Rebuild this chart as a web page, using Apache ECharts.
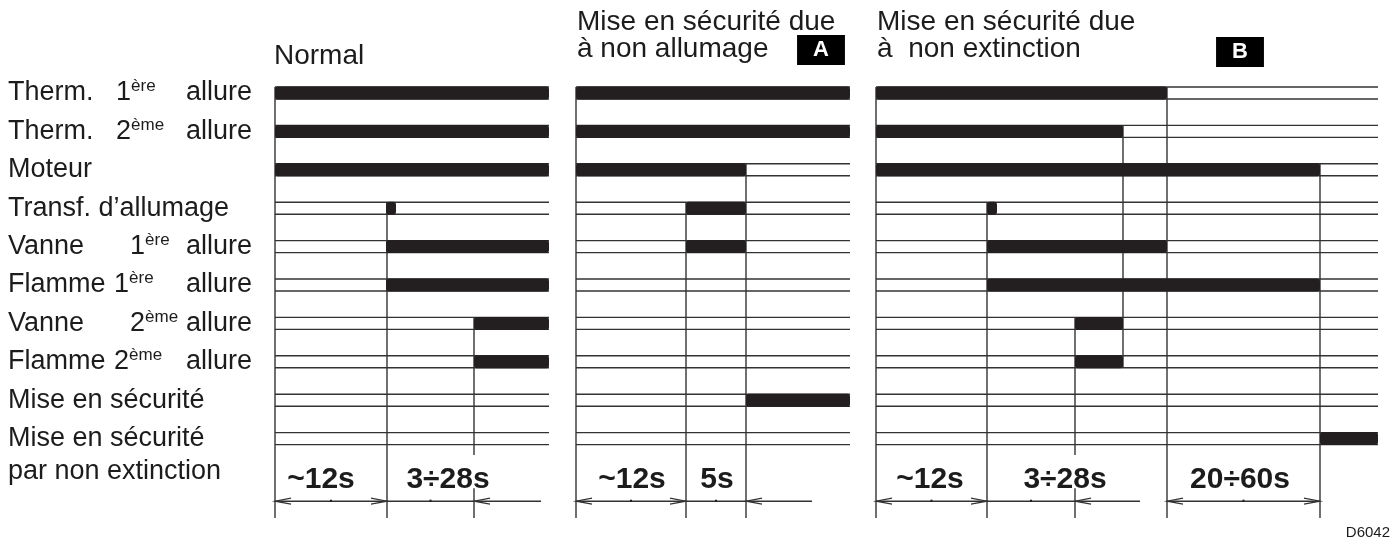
<!DOCTYPE html>
<html>
<head>
<meta charset="utf-8">
<script src="https://cdn.jsdelivr.net/npm/echarts@6/dist/echarts.min.js"></script>
<style>
html, body { margin: 0; padding: 0; background: #fff; }
#chart { width: 1394px; height: 541px; }
</style>
</head>
<body>
<div id="chart"></div>
<script>
// rows of the timing diagram, top to bottom
const signalNames = ['Therm.', 'Therm.', 'Moteur', 'Transf. d’allumage', 'Vanne', 'Flamme', 'Vanne', 'Flamme', 'Mise en sécurité', 'Mise en sécurité\npar non extinction']
const signalStage = ['1', '2', '', '', '1', '1', '2', '2', '', '']

// panels (time in schematic units, not to scale)
const panelTitles = ['Normal', 'Mise en sécurité due\nà non allumage', 'Mise en sécurité due\nà  non extinction']
const panelTags = ['', 'A', 'B']
const panelLength = [27.4, 27.4, 50.2]

// active periods: [row, start, end]
const barsNormal = [[0, 0, 27.4], [1, 0, 27.4], [2, 0, 27.4], [3, 11.1, 12.1], [4, 11.1, 27.4], [5, 11.1, 27.4], [6, 19.9, 27.4], [7, 19.9, 27.4]]
const barsA = [[0, 0, 27.4], [1, 0, 27.4], [2, 0, 17.0], [3, 11.0, 17.0], [4, 11.0, 17.0], [8, 17.0, 27.4]]
const barsB = [[0, 0, 29.1], [1, 0, 24.7], [2, 0, 44.4], [3, 11.1, 12.1], [4, 11.1, 29.1], [5, 11.1, 44.4], [6, 19.9, 24.7], [7, 19.9, 24.7], [9, 44.4, 50.2]]

// event lines: [time, from row, to row | 'foot' | 'cut']
const edgesNormal = [[0, 0, 'foot'], [11.2, 3, 'foot'], [19.9, 6, 'cut']]
const edgesA = [[0, 0, 'foot'], [11.0, 3, 'foot'], [17.0, 2, 'foot']]
const edgesB = [[0, 0, 'foot'], [11.1, 3, 'foot'], [19.9, 6, 'cut'], [24.7, 1, 7], [29.1, 0, 'foot'], [44.4, 2, 'foot']]

// durations: [from, to, label]
const spansNormal = [[0, 11.2, '~12s'], [11.2, 19.9, '3÷28s']]
const spansA = [[0, 11.0, '~12s'], [11.0, 17.0, '5s']]
const spansB = [[0, 11.1, '~12s'], [11.1, 19.9, '3÷28s'], [29.1, 44.4, '20÷60s']]
// where each duration label is centred (time units)
const labelAtNormal = [4.6, 17.3]
const labelAtA = [5.6, 14.1]
const labelAtB = [5.4, 18.9, 36.4]

// dimension lines and arrow tips ('L' = points left, 'R' = points right)
const dimNormal = [[0, 26.6]]
const dimA = [[0, 23.6]]
const dimB = [[0, 26.4], [29.1, 44.4]]
const arrowsNormal = [[0, 'L'], [11.2, 'R'], [19.9, 'L']]
const arrowsA = [[0, 'L'], [11.0, 'R'], [17.0, 'L']]
const arrowsB = [[0, 'L'], [11.1, 'R'], [19.9, 'L'], [29.1, 'L'], [44.4, 'R']]

const INK = '#1c1c1c'
const LINE = '#333'
const BAR = '#231f20'
const FONT = 'Liberation Sans'
const panelLeft = [275, 576, 876]
const ROW_PX = 38.4
const ROW0_PX = 93
// vertical layout in row units
const DIM_TEXT = 10.08
const DIM_LINE = 10.63
const FOOT = 11.07
const CUT_TOP = 9.43
const CUT_BOTTOM = 10.29

const chart = echarts.init(document.getElementById('chart'))

const lineStyle = { stroke: LINE, lineWidth: 1.4 }

function seg(x1, y1, x2, y2) {
  return { type: 'line', shape: { x1, y1, x2, y2 }, style: lineStyle }
}

function makePanel(i, bars, edges, spans, labelAt, dims, arrows) {
  const len = panelLength[i]
  const base = { type: 'custom', coordinateSystem: 'cartesian2d', xAxisIndex: i, yAxisIndex: i, silent: true, animation: false }
  const yOf = (api, v) => api.coord([0, v])[1]
  return [
    {
      ...base,
      data: signalNames.map((_, r) => [0, r]),
      renderItem: (params, api) => {
        const r = api.value(1)
        const a = api.coord([0, r]), b = api.coord([len, r])
        return { type: 'group', children: [-6, 6].map(d => seg(a[0], a[1] + d, b[0], b[1] + d)) }
      }
    },
    {
      ...base,
      data: edges.map(e => [e[0], e[1]]),
      renderItem: (params, api) => {
        const [t, from, to] = edges[params.dataIndex]
        const x = api.coord([t, 0])[0]
        const y0 = yOf(api, from) - 6
        let parts
        if (to === 'cut') parts = [[y0, yOf(api, CUT_TOP)], [yOf(api, CUT_BOTTOM), yOf(api, FOOT)]]
        else if (to === 'foot') parts = [[y0, yOf(api, FOOT)]]
        else parts = [[y0, yOf(api, to) + 6]]
        return { type: 'group', children: parts.map(p => seg(x, p[0], x, p[1])) }
      }
    },
    {
      ...base,
      data: bars.map(b => [b[1], b[0]]),
      renderItem: (params, api) => {
        const [row, s, e] = bars[params.dataIndex]
        const a = api.coord([s, row]), b = api.coord([e, row])
        return { type: 'rect', shape: { x: a[0], y: a[1] - 6.5, width: b[0] - a[0], height: 13, r: 3 }, style: { fill: BAR } }
      }
    },
    {
      ...base,
      data: dims.map(d => [d[0], DIM_LINE]),
      renderItem: (params, api) => {
        const [s, e] = dims[params.dataIndex]
        const a = api.coord([s, DIM_LINE]), b = api.coord([e, DIM_LINE])
        return seg(a[0], a[1], b[0], b[1])
      }
    },
    {
      ...base,
      data: arrows.map(a => [a[0], DIM_LINE]),
      renderItem: (params, api) => {
        const [t, side] = arrows[params.dataIndex]
        const p = api.coord([t, DIM_LINE])
        const d = side === 'L' ? 16 : -16
        return { type: 'polyline', shape: { points: [[p[0] + d, p[1] - 3], [p[0], p[1]], [p[0] + d, p[1] + 3]] }, style: { stroke: LINE, lineWidth: 1.2, fill: null } }
      }
    },
    {
      ...base,
      data: spans.map(s => [s[0], DIM_TEXT]),
      renderItem: (params, api) => {
        const [s, e, label] = spans[params.dataIndex]
        const t = api.coord([labelAt[params.dataIndex], DIM_TEXT])
        const d = api.coord([(s + e) / 2, DIM_LINE])
        return {
          type: 'group',
          children: [
            { type: 'text', x: t[0], y: t[1], style: { text: label, fontSize: 30, fontWeight: 'bold', fontFamily: FONT, fill: INK, align: 'center', verticalAlign: 'middle' } },
            { type: 'rect', shape: { x: d[0] - 1, y: d[1] - 1.5, width: 2, height: 2 }, style: { fill: INK } }
          ]
        }
      }
    }
  ]
}

const supOf = { '1': 'ère', '2': 'ème' }
const nameStyle = { 'Therm.': 'nT', 'Vanne': 'nV', 'Flamme': 'nF' }
const txt = { fontSize: 27, fontFamily: FONT, color: INK, lineHeight: 30 }
const sup = { fontSize: 17, fontFamily: FONT, color: INK, lineHeight: 17, verticalAlign: 'top' }

function rowLabel(v) {
  if (v < 0 || v > 9 || v !== Math.round(v)) return ''
  const name = signalNames[v]
  const st = signalStage[v]
  if (st) {
    const k = nameStyle[name]
    return '{' + k + '|' + name + '}{t|' + st + '}{' + k + 's|' + supOf[st] + '}{t|allure}'
  }
  if (name.indexOf('\n') >= 0) {
    return '{p| }\n' + name.split('\n').map(s => '{p|' + s + '}').join('\n')
  }
  return '{t|' + name + '}'
}

const grids = [], xAxes = [], yAxes = [], series = []
const panelData = [
  [barsNormal, edgesNormal, spansNormal, labelAtNormal, dimNormal, arrowsNormal],
  [barsA, edgesA, spansA, labelAtA, dimA, arrowsA],
  [barsB, edgesB, spansB, labelAtB, dimB, arrowsB]
]
panelData.forEach((pd, i) => {
  grids.push({ left: panelLeft[i], width: panelLength[i] * 10, top: ROW0_PX - ROW_PX, height: 12.5 * ROW_PX })
  xAxes.push({ gridIndex: i, type: 'value', min: 0, max: panelLength[i], show: false })
  yAxes.push({
    gridIndex: i, type: 'value', min: -1, max: 11.5, interval: 1, inverse: true,
    show: i === 0,
    axisLine: { show: false }, axisTick: { show: false }, splitLine: { show: false },
    axisLabel: {
      show: i === 0, align: 'left', margin: panelLeft[0] - 8,
      formatter: rowLabel,
      rich: {
        t: txt, p: { ...txt, lineHeight: 33 },
        nT: { ...txt, width: 108 }, nV: { ...txt, width: 122 }, nF: { ...txt, width: 106 },
        nTs: { ...sup, width: 55 }, nVs: { ...sup, width: 41 }, nFs: { ...sup, width: 57 }
      }
    }
  })
  series.push(...makePanel(i, ...pd))
})

const titleX = [274, 577, 877]
const titleY = [56, 36, 36]
const tagX = [0, 821, 1240]
const tagY = [0, 50, 52]
const graphic = []
panelTitles.forEach((t, i) => {
  graphic.push({ type: 'text', x: titleX[i], y: titleY[i], silent: true, style: { text: t, fontSize: 28, fontFamily: FONT, fill: INK, lineHeight: 27, verticalAlign: 'middle' } })
  if (panelTags[i]) {
    graphic.push({ type: 'text', x: tagX[i], y: tagY[i], silent: true, style: { text: panelTags[i], fontSize: 22, fontWeight: 'bold', fontFamily: FONT, fill: '#fff', backgroundColor: '#000', padding: [4, 16, 4, 16], align: 'center', verticalAlign: 'middle' } })
  }
})
graphic.push({ type: 'text', x: 1390, y: 533, silent: true, style: { text: 'D6042', fontSize: 15, fontFamily: FONT, fill: INK, align: 'right', verticalAlign: 'middle' } })

chart.setOption({
  backgroundColor: '#fff',
  animation: false,
  grid: grids,
  xAxis: xAxes,
  yAxis: yAxes,
  series: series,
  graphic: graphic
})
</script>
</body>
</html>
